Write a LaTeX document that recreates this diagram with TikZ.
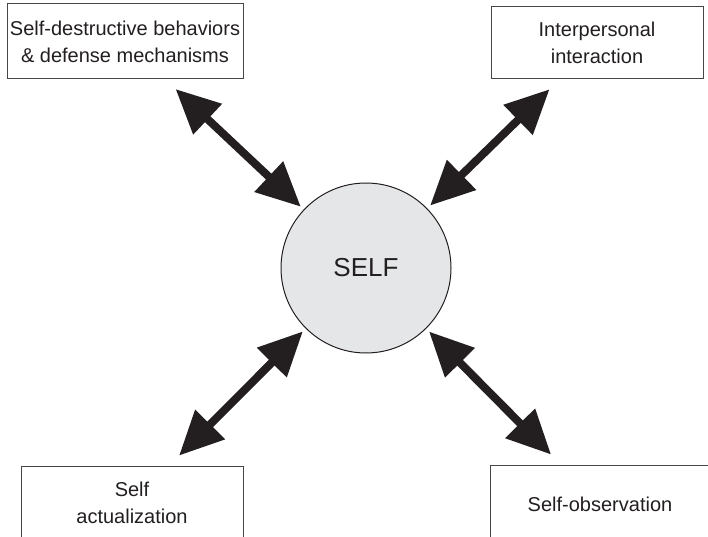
\documentclass[tikz,border=0pt]{standalone}
\usepackage{fontspec}
\setmainfont{Liberation Sans}
\usepackage{xcolor}
\definecolor{Ink}{RGB}{35,31,32}
\definecolor{Frame}{RGB}{70,70,70}
\definecolor{SelfGray}{RGB}{229,230,232}
\definecolor{White}{RGB}{255,255,255}
\usetikzlibrary{arrows.meta}

\begin{document}
\begin{tikzpicture}[x=1pt, y=-1pt,
		box/.style={draw=Frame, line width=1pt, fill=White, align=center, inner sep=0pt, text=Ink, font=\fontsize{20}{27}\selectfont},
		dblarrow/.style={{Triangle[length=44pt,width=40pt]}-{Triangle[length=44pt,width=40pt]}, line width=8pt, color=Ink, shorten <=4pt, shorten >=14pt}]

		\useasboundingbox (0,0) rectangle (708,537);

		% Circle
		\node[circle, draw=Ink, line width=1pt, fill=SelfGray, minimum size=170pt, text=Ink, font=\fontsize{26}{30}\selectfont] (self) at (366,268) {SELF};

		% Boxes
		\node[box, minimum width=236pt, minimum height=75pt] (destr) at (125,41.5) {Self-destructive behaviors\\ \& defense mechanisms};
		\node[box, minimum width=212pt, minimum height=72pt] (inter) at (597,43) {Interpersonal\\ interaction};
		\node[box, minimum width=222pt, minimum height=74pt] (actual) at (132,503) {Self\\ actualization};
		\node[box, minimum width=220pt, minimum height=78pt] (observ) at (600,504) {Self-observation};

		% Arrows
		\draw[dblarrow] (self) -- (destr);
		\draw[dblarrow] (self) -- (inter);
		\draw[dblarrow] (self) -- (actual);
		\draw[dblarrow] (self) -- (observ);

\end{tikzpicture}
\end{document}
